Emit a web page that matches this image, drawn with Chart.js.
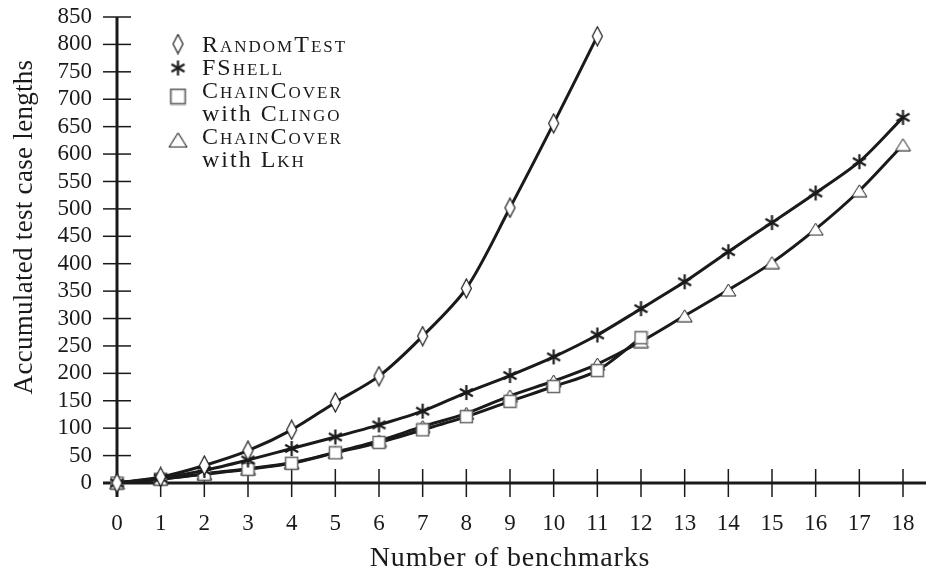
<!DOCTYPE html>
<html lang="en">
<head>
  <meta charset="UTF-8">
  <title>Accumulated test case lengths</title>
  <script src="https://cdn.jsdelivr.net/npm/chart.js"></script>
  <style>
    html, body {
      margin: 0;
      padding: 0;
      background: #fff;
    }
    #wrap {
      width: 926px;
      height: 571px;
      position: relative;
    }
  </style>
</head>
<body>
  <div id="wrap"><canvas id="grafica"></canvas></div>

  <script>
    // x axis: number of benchmarks
    const benchmarks = [0, 1, 2, 3, 4, 5, 6, 7, 8, 9, 10, 11, 12, 13, 14, 15, 16, 17, 18];
    const yTicks = [0, 50, 100, 150, 200, 250, 300, 350, 400, 450, 500, 550, 600, 650, 700, 750, 800, 850];

    // accumulated test case lengths per tool
    const randomTest = [0, 11, 32, 59, 97, 147, 195, 268, 355, 502, 656, 815];
    const fShell = [0, 9, 23, 42, 63, 84, 106, 131, 165, 196, 230, 270, 318, 367, 422, 475, 529, 586, 667];
    const chainCoverClingo = [0, 7, 16, 25, 36, 55, 74, 97, 121, 149, 176, 205, 265];
    const chainCoverLkh = [0, 7, 17, 26, 37, 56, 77, 103, 127, 159, 186, 217, 258, 305, 352, 402, 463, 533, 617];

    const seriesNames = ['RandomTest', 'FShell', 'ChainCover with Clingo', 'ChainCover with Lkh'];

    const SERIF = '"Liberation Serif", "DejaVu Serif", serif';
    const INK = '#1a1a1a';

    function marcador(w, h, dibujar) {
      const c = document.createElement('canvas');
      c.width = w;
      c.height = h;
      dibujar(c.getContext('2d'), w, h);
      return c;
    }

    const rombo = marcador(13, 21, (ctx, w, h) => {
      ctx.beginPath();
      ctx.moveTo(w / 2, 1);
      ctx.lineTo(w - 1.5, h / 2);
      ctx.lineTo(w / 2, h - 1);
      ctx.lineTo(1.5, h / 2);
      ctx.closePath();
      ctx.fillStyle = '#fff';
      ctx.fill();
      ctx.lineWidth = 1.2;
      ctx.strokeStyle = INK;
      ctx.stroke();
    });

    const asterisco = marcador(17, 17, (ctx, w, h) => {
      ctx.strokeStyle = INK;
      ctx.lineWidth = 2.2;
      const r = 7.5;
      [90, 30, 150].forEach(a => {
        const dx = Math.cos(a * Math.PI / 180) * r;
        const dy = Math.sin(a * Math.PI / 180) * r;
        ctx.beginPath();
        ctx.moveTo(w / 2 - dx, h / 2 - dy);
        ctx.lineTo(w / 2 + dx, h / 2 + dy);
        ctx.stroke();
      });
    });

    const cuadro = marcador(15, 15, (ctx, w, h) => {
      ctx.fillStyle = '#fff';
      ctx.fillRect(1.5, 1.5, w - 3, h - 3);
      ctx.lineWidth = 1.5;
      ctx.strokeStyle = '#666';
      ctx.strokeRect(1.5, 1.5, w - 3, h - 3);
    });

    const triangulo = marcador(17, 14, (ctx, w, h) => {
      ctx.beginPath();
      ctx.moveTo(w / 2, 1);
      ctx.lineTo(w - 1, h - 1);
      ctx.lineTo(1, h - 1);
      ctx.closePath();
      ctx.fillStyle = '#fff';
      ctx.fill();
      ctx.lineWidth = 1;
      ctx.strokeStyle = INK;
      ctx.stroke();
    });

    function serie(nombre, valores, punto) {
      return {
        label: nombre,
        data: valores.map((v, i) => ({ x: benchmarks[i], y: v })),
        borderColor: INK,
        borderWidth: 3,
        tension: 0.3,
        pointStyle: punto,
        pointRadius: 7,
        pointHoverRadius: 7,
        clip: false,
        fill: false
      };
    }

    function linea(ctx, x1, y1, x2, y2) {
      ctx.beginPath();
      ctx.moveTo(x1, y1);
      ctx.lineTo(x2, y2);
      ctx.stroke();
    }

    // axes with ticks crossing the axis lines
    const ejes = {
      id: 'ejes',
      beforeDatasetsDraw(chart) {
        const { ctx, scales: { x, y } } = chart;
        const x0 = x.getPixelForValue(0);
        const y0 = y.getPixelForValue(0);
        const yTop = y.getPixelForValue(yTicks[yTicks.length - 1]);
        ctx.save();
        ctx.strokeStyle = INK;
        ctx.lineWidth = 1.5;
        yTicks.forEach(v => {
          const py = y.getPixelForValue(v);
          linea(ctx, x0 - 14, py, x0 + 14, py);
        });
        benchmarks.forEach(v => {
          const px = x.getPixelForValue(v);
          linea(ctx, px, y0 - 14, px, y0 + 14);
        });
        ctx.lineWidth = 3;
        linea(ctx, x0, yTop, x0, y0 + 14);
        linea(ctx, x0 - 14, y0, chart.width, y0);
        ctx.restore();
      }
    };

    // axis titles
    const titulos = {
      id: 'titulos',
      afterDraw(chart) {
        const { ctx, scales: { x } } = chart;
        ctx.save();
        ctx.fillStyle = INK;
        ctx.textAlign = 'center';
        ctx.textBaseline = 'alphabetic';
        ctx.font = '28px ' + SERIF;
        ctx.letterSpacing = '0.8px';
        ctx.fillText('Number of benchmarks', (x.left + x.right) / 2, 566);
        ctx.font = '27px ' + SERIF;
        ctx.letterSpacing = '0.3px';
        ctx.translate(32, 227);
        ctx.rotate(-Math.PI / 2);
        ctx.fillText('Accumulated test case lengths', 0, 0);
        ctx.restore();
      }
    };

    // legend: small caps names, "with" in normal lower case
    const leyenda = {
      id: 'leyenda',
      afterDraw(chart) {
        const { ctx } = chart;
        const marcas = [rombo, asterisco, cuadro, triangulo];
        const subir = [8, 7, 1.5, 4];
        const xMarca = 178, xTexto = 202, paso = 23;
        let base = 52;
        ctx.save();
        ctx.fillStyle = INK;
        ctx.textBaseline = 'alphabetic';
        ctx.textAlign = 'left';
        ctx.letterSpacing = '2px';
        seriesNames.forEach((nombre, i) => {
          const m = marcas[i];
          const k = i >= 2 ? 1.2 : 1;
          ctx.drawImage(m, xMarca - m.width * k / 2, base - subir[i] - m.height * k / 2, m.width * k, m.height * k);
          const partes = nombre.split(' with ');
          const lineas = partes.length > 1 ? [[partes[0]], ['with ', partes[1]]] : [[partes[0]]];
          lineas.forEach(trozos => {
            let px = xTexto;
            trozos.forEach(t => {
              ctx.font = (t === 'with ' ? '' : 'small-caps ') + '24px ' + SERIF;
              ctx.fillText(t, px, base);
              px += ctx.measureText(t).width;
            });
            base += paso;
          });
        });
        ctx.restore();
      }
    };

    new Chart(document.getElementById('grafica'), {
      type: 'line',
      data: {
        datasets: [
          serie(seriesNames[0], randomTest, rombo),
          serie(seriesNames[1], fShell, asterisco),
          serie(seriesNames[2], chainCoverClingo, cuadro),
          serie(seriesNames[3], chainCoverLkh, triangulo)
        ]
      },
      options: {
        responsive: true,
        maintainAspectRatio: false,
        animation: false,
        layout: { padding: { top: 17, right: 23, left: 0, bottom: 0 } },
        plugins: {
          legend: { display: false },
          tooltip: { enabled: false }
        },
        scales: {
          x: {
            type: 'linear',
            min: 0,
            max: 18,
            grid: { display: false, drawTicks: false },
            border: { display: false },
            afterFit: s => {
              s.height = 88;
              s.paddingLeft = 0;
              s.paddingRight = 0;
            },
            afterBuildTicks: s => { s.ticks = benchmarks.map(v => ({ value: v })); },
            ticks: {
              color: INK,
              padding: 27,
              autoSkip: false,
              maxRotation: 0,
              font: { family: SERIF, size: 23 }
            }
          },
          y: {
            min: 0,
            max: 850,
            grid: { display: false, drawTicks: false },
            border: { display: false },
            afterFit: s => {
              s.width = 117;
              s.paddingTop = 0;
              s.paddingBottom = 0;
            },
            afterBuildTicks: s => { s.ticks = yTicks.map(v => ({ value: v })); },
            ticks: {
              color: INK,
              padding: 25,
              autoSkip: false,
              font: { family: SERIF, size: 23 }
            }
          }
        }
      },
      plugins: [ejes, titulos, leyenda]
    });
  </script>
</body>
</html>
